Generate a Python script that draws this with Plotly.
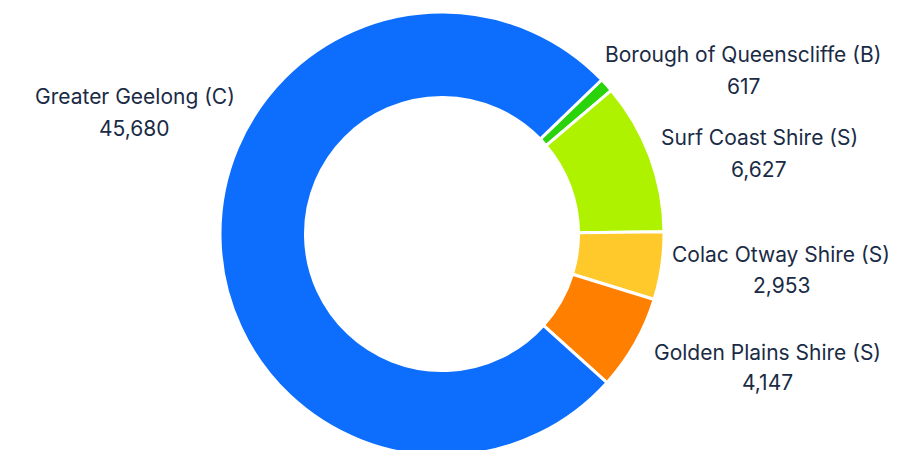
import plotly.graph_objects as go

# Data
categories = ["Borough of Queenscliffe (B)", "Surf Coast Shire (S)", "Colac Otway Shire (S)",
              "Golden Plains Shire (S)", "Greater Geelong (C)"]
values = [617, 6627, 2953, 4147, 45680]

# Styles
colors = ["#2BD30B", "#AEF200", "#FFC92B", "#FF8000", "#0D6EFD"]
text_color = "#1A2B45"
font_family = "Inter"
font_size = 21

# The page body adds an 8px offset; work in page pixels and convert
OFF = 8
W, H = 909, 460
cx, cy, R = 442 - OFF, 234 - OFF, 222

# Label anchor positions (page pixels): centre x, label-line y, value-line y
label_pos = {
    "Borough of Queenscliffe (B)": (743, 55, 86),
    "Surf Coast Shire (S)": (759, 137, 169),
    "Colac Otway Shire (S)": (781, 254, 285),
    "Golden Plains Shire (S)": (767, 352, 382),
    "Greater Geelong (C)": (135, 96, 128),
}

fig = go.Figure(go.Pie(
    labels=categories,
    values=values,
    hole=0.615,
    sort=False,
    direction="clockwise",
    rotation=46,
    marker=dict(colors=colors, line=dict(color="white", width=3)),
    textinfo="none",
    hoverinfo="label+value",
    domain=dict(x=[(cx - R) / W, (cx + R) / W],
                y=[1 - (cy + R) / H, 1 - (cy - R) / H]),
    showlegend=False,
))

annotations = []
for cat, val in zip(categories, values):
    x, y1, y2 = label_pos[cat]
    for txt, yy in ((cat, y1), (f"{val:,}", y2)):
        annotations.append(dict(x=(x - OFF) / W, y=1 - (yy - OFF) / H,
                                xref="paper", yref="paper",
                                text=txt, showarrow=False, xanchor="center", yanchor="middle",
                                font=dict(size=font_size, color=text_color, family=font_family)))

fig.update_layout(
    width=W, height=H,
    margin=dict(l=0, r=0, t=0, b=0),
    paper_bgcolor="white",
    plot_bgcolor="white",
    annotations=annotations,
)

fig.write_html("out.html")
